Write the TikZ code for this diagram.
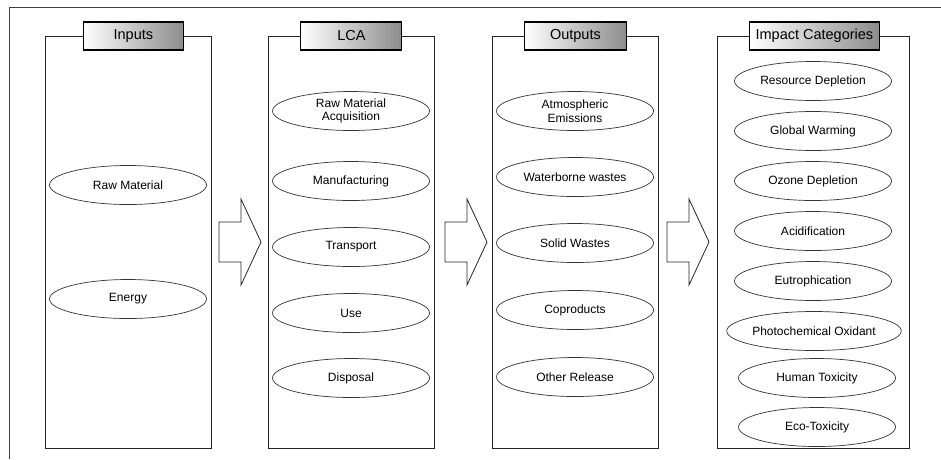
\documentclass[tikz,border=0pt]{standalone}
\usepackage{fontspec}
\setmainfont{Liberation Sans}
\usetikzlibrary{positioning,shapes.geometric}

\tikzset{
  column/.style={draw=black!85, line width=0.8pt, rectangle, inner sep=0pt,
    anchor=north west, minimum height=412pt},
  heading/.style={draw=black, line width=1.1pt, rectangle, inner sep=0pt,
    minimum height=28pt, left color=white, right color=black!45,
    font=\fontsize{14.5}{16}\selectfont},
  item/.style={draw=black!80, line width=0.7pt, ellipse, inner sep=0pt,
    minimum width=157pt, minimum height=39pt, align=center,
    font=\fontsize{12}{13.5}\selectfont},
  blockarrow/.style={draw=black!85, line width=0.8pt, line join=miter}
}

\begin{document}
\begin{tikzpicture}[x=1pt,y=-1pt]
      \useasboundingbox (0,0) rectangle (941,459);
      % frame
      \draw[black!75, line width=0.8pt] (9,459) -- (9,7) -- (941,7);
      % columns
      \node[column, minimum width=166pt] (inputs)  at (45,36)  {};
      \node[column, minimum width=166pt] (lca)     at (268,36) {};
      \node[column, minimum width=166pt] (outputs) at (492,36) {};
      \node[column, minimum width=192pt] (impact)  at (717,36) {};
      % headings
      \node[heading, minimum width=100pt] (inputs title) at ([xshift=5pt]inputs.north) {Inputs};
      \node[heading, minimum width=101pt] (lca title) at (lca.north) {LCA};
      \node[heading, minimum width=102pt] (outputs title) at (outputs.north) {Outputs};
      \node[heading, minimum width=130pt] (impact title) at ([xshift=1pt]impact.north) {Impact Categories};
      % inputs
      \node[item] (raw material) at (128,185) {Raw Material};
      \node[item] (energy) at (128,299) {Energy};
      % life cycle stages
      \node[item] (acquisition) at (351,111) {Raw Material\\Acquisition};
      \node[item] (manufacturing) at (351,181) {Manufacturing};
      \node[item] (transport) at (351,247) {Transport};
      \node[item] (use) at (351,313) {Use};
      \node[item] (disposal) at (351,378) {Disposal};
      % outputs
      \node[item] (atmospheric) at (575,111) {Atmospheric\\Emissions};
      \node[item] (waterborne) at (575,177) {Waterborne wastes};
      \node[item] (solid) at (575,243) {Solid Wastes};
      \node[item] (coproducts) at (575,310) {Coproducts};
      \node[item] (release) at (575,377) {Other Release};
      % impact categories
      \node[item] (resource) at (813,81) {Resource Depletion};
      \node[item] (warming) at (813,131) {Global Warming};
      \node[item] (ozone) at (813,181) {Ozone Depletion};
      \node[item] (acidification) at (813,231) {Acidification};
      \node[item] (eutrophication) at (813,281) {Eutrophication};
      \node[item] (oxidant) at (814,331) {Photochemical Oxidant};
      \node[item] (human) at (817,378) {Human Toxicity};
      \node[item] (eco) at (817,427) {Eco-Toxicity};
      % block arrows between the columns
      \foreach \x [count=\i] in {219,445,667} {
        \coordinate (arrow\i) at (\x,242);
        \draw[blockarrow] (arrow\i) ++(0,-20) -- ++(22,0) -- ++(0,-23) -- ++(20,43)
          -- ++(-20,43) -- ++(0,-23) -- ++(-22,0) -- cycle;
      }
\end{tikzpicture}
\end{document}
